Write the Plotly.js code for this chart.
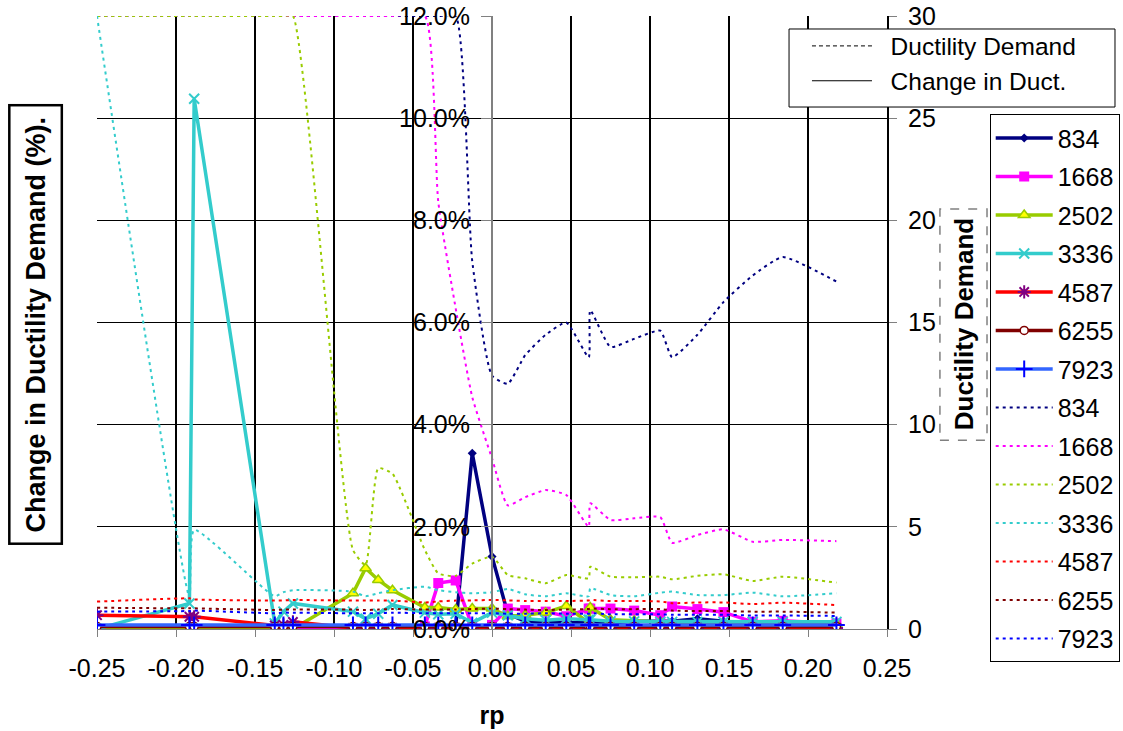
<!DOCTYPE html>
<html>
<head>
<meta charset="utf-8">
<script src="https://cdn.plot.ly/plotly-3.0.1.min.js"></script>
<style>html,body{margin:0;padding:0;background:#fff;}#chart{width:1123px;height:731px;}</style>
</head>
<body>
<div id="chart"></div>
<script>
// ---- data ----
const rp = [-0.25, -0.1915, -0.1885, -0.1375, -0.132, -0.126, -0.088, -0.080, -0.072, -0.063,
            -0.0425, -0.034, -0.023, -0.0125, 0.0, 0.010, 0.021, 0.034, 0.047, 0.0612,
            0.0622, 0.075, 0.090, 0.1065, 0.114, 0.130, 0.1465, 0.165, 0.184, 0.218];

const seriesNames = ['834', '1668', '2502', '3336', '4587', '6255', '7923'];

// Change in ductility demand (%)
const chg834  = [0.05,0.05,0.05,0.05,0.05,0.05,0.05,0.05,0.05,0.05,0.05,0.05,0.05,3.44,1.42,0.30,0.15,0.12,0.12,0.12,0.12,0.12,0.15,0.15,0.15,0.20,0.15,0.10,0.10,0.10];
const chg1668 = [0,0,0,0,0,0,0,0,0,0,0.05,0.90,0.95,0.05,0.08,0.40,0.37,0.34,0.25,0.40,0.40,0.40,0.36,0.27,0.44,0.39,0.33,0.14,0.16,0.11];
const chg2502 = [0,0,0,0,0,0,0.70,1.19,0.96,0.76,0.42,0.42,0.38,0.40,0.40,0.25,0.27,0.32,0.45,0.12,0.42,0.18,0.16,0.14,0.12,0.12,0.12,0.10,0.10,0.10];
const chg3336 = [0,0.50,10.38,0.11,0.34,0.50,0.34,0.20,0.30,0.47,0.32,0.29,0.30,0.12,0.32,0.27,0.20,0.17,0.20,0.18,0.18,0.15,0.15,0.14,0.14,0.14,0.14,0.14,0.14,0.14];
const chg4587 = [0.27,0.24,0.24,0.07,0.08,0.14,0.02,0.02,0.02,0.02,0.02,0.02,0.02,0.02,0.03,0.02,0.02,0.02,0.02,0.02,0.02,0.02,0.02,0.02,0.02,0.02,0.02,0.02,0.02,0.02];
const chg6255 = [0.05,0.05,0.05,0.05,0.05,0.05,0.05,0.05,0.05,0.05,0.05,0.05,0.05,0.05,0.05,0.05,0.05,0.05,0.05,0.05,0.05,0.05,0.05,0.05,0.05,0.05,0.05,0.05,0.05,0.05];
const chg7923 = [0.08,0.08,0.08,0.08,0.08,0.08,0.08,0.08,0.08,0.08,0.08,0.08,0.08,0.08,0.08,0.08,0.08,0.08,0.08,0.08,0.08,0.08,0.08,0.08,0.08,0.08,0.08,0.08,0.08,0.08];

// Ductility demand
const dd834  = [30,30,30,30,30,30,30,30,30,30,30,30,30,18.0,12.4,12.0,13.4,14.4,15.0,13.3,15.6,13.8,14.2,14.6,13.3,14.4,16.0,17.3,18.2,17.0];
const dd1668 = [30,30,30,30,30,30,30,30,30,30,30,20.9,15.7,11.35,8.35,6.05,6.45,6.8,6.56,5.0,6.15,5.33,5.42,5.47,4.22,4.6,4.88,4.27,4.36,4.3];
const dd2502 = [30,30,30,30,30,30,3.87,3.13,7.87,7.6,3.87,2.72,2.6,3.2,3.54,2.64,2.48,2.24,2.64,2.48,3.05,2.56,2.53,2.56,2.43,2.6,2.68,2.35,2.56,2.27];
const dd3336 = [30,1.57,4.85,1.6,1.8,1.9,1.83,1.6,1.75,1.9,2.07,1.9,1.8,1.75,1.8,1.96,1.7,1.6,1.75,1.6,2.0,1.66,1.6,1.78,1.83,1.66,1.66,1.78,1.6,1.75];
const dd4587 = [1.34,1.5,1.45,1.39,1.4,1.42,1.39,1.39,1.39,1.39,1.3,1.35,1.39,1.4,1.42,1.4,1.37,1.37,1.37,1.4,1.42,1.37,1.37,1.35,1.26,1.3,1.3,1.22,1.29,1.17];
const dd6255 = [1.04,1.01,1.01,0.93,0.95,0.95,0.95,0.93,0.95,0.98,0.95,0.95,0.95,0.98,1.0,0.97,0.95,0.93,0.95,0.98,1.0,0.97,0.97,0.98,0.9,0.88,0.88,0.85,0.85,0.8];
const dd7923 = [0.85,0.88,0.9,0.77,0.8,0.8,0.77,0.77,0.77,0.8,0.77,0.77,0.77,0.77,0.77,0.75,0.75,0.77,0.75,0.75,0.77,0.72,0.72,0.72,0.7,0.7,0.7,0.66,0.66,0.64];

const xTickLabels = ['-0.25','-0.20','-0.15','-0.10','-0.05','0.00','0.05','0.10','0.15','0.20','0.25'];
const xTickVals = [-0.25,-0.20,-0.15,-0.10,-0.05,0.0,0.05,0.10,0.15,0.20,0.25];

// ---- styles ----
const FONT = 'Liberation Sans, Arial, sans-serif';
const chgData = [chg834, chg1668, chg2502, chg3336, chg4587, chg6255, chg7923];
const ddData = [dd834, dd1668, dd2502, dd3336, dd4587, dd6255, dd7923];
const solidColors = ['#000080', '#FF00FF', '#99CC00', '#33CCCC', '#FF0000', '#800000', '#3366FF'];
const dashColors  = ['#000080', '#FF00FF', '#99CC00', '#33CCCC', '#FF0000', '#800000', '#0000FF'];
const markers = [
  {symbol: 'diamond', size: 7, color: '#000080'},
  {symbol: 'square', size: 10, color: '#FF00FF'},
  {symbol: 'triangle-up', size: 10, color: '#FFFF00', line: {color: '#99CC00', width: 1.5}},
  {symbol: 'x-thin-open', size: 10, color: '#33CCCC', line: {color: '#33CCCC', width: 2}},
  {symbol: 'asterisk-open', size: 11, color: '#800080', line: {color: '#800080', width: 2}},
  {symbol: 'circle', size: 8, color: '#FFFFFF', line: {color: '#800000', width: 1.5}},
  {symbol: 'cross-thin-open', size: 12, color: '#0000FF', line: {color: '#0000FF', width: 2}}
];

const traces = [];
seriesNames.forEach((n, i) => {
  traces.push({
    type: 'scatter', mode: 'lines+markers', x: rp, y: chgData[i], name: n,
    xaxis: 'x', yaxis: 'y', cliponaxis: true,
    line: {color: solidColors[i], width: 3.5},
    marker: markers[i], legend: 'legend', legendgroup: 's' + i
  });
});
seriesNames.forEach((n, i) => {
  traces.push({
    type: 'scatter', mode: 'lines', x: rp, y: ddData[i], name: n,
    xaxis: 'x', yaxis: 'y2',
    line: {color: dashColors[i], width: 2, dash: '3px,4px', shape: 'spline', smoothing: 0.5},
    legend: 'legend', legendgroup: 'd' + i
  });
});
// key legend
traces.push({type: 'scatter', mode: 'lines', x: [null], y: [null], name: '\u00a0\u00a0Ductility Demand',
  yaxis: 'y', line: {color: '#000', width: 1, dash: '4px,3px'}, legend: 'legend2'});
traces.push({type: 'scatter', mode: 'lines', x: [null], y: [null], name: '\u00a0\u00a0Change in Duct.',
  yaxis: 'y', line: {color: '#000', width: 1}, legend: 'legend2'});

const layout = {
  width: 1123, height: 731,
  margin: {l: 97, r: 236, t: 16, b: 102, autoexpand: false},
  paper_bgcolor: '#fff', plot_bgcolor: '#fff',
  font: {family: FONT, size: 25, color: '#000'},
  showlegend: true,
  xaxis: {
    range: [-0.25, 0.25], tickvals: xTickVals, ticktext: xTickLabels,
    showgrid: true, gridcolor: '#000', gridwidth: 1.2, zeroline: false,
    showline: true, linecolor: '#808080', linewidth: 1,
    ticks: 'outside', ticklen: 7, tickcolor: '#808080', ticklabelstandoff: 10,
    tickfont: {size: 25}, automargin: false,
    title: {text: '<b>rp</b>', font: {size: 25}, standoff: 25}
  },
  yaxis: {
    range: [0, 12], dtick: 2, tick0: 0, tickformat: '.1f', ticksuffix: '%',
    anchor: 'free', position: 0.5,
    showgrid: true, gridcolor: '#000', gridwidth: 1.2, zeroline: false,
    showline: true, linecolor: '#808080', linewidth: 2,
    ticks: 'outside', ticklen: 10, tickcolor: '#808080', ticklabelstandoff: 6,
    tickfont: {size: 25}, automargin: false
  },
  yaxis2: {
    range: [0, 30], dtick: 5, tick0: 0, overlaying: 'y', side: 'right', anchor: 'x',
    showgrid: false, zeroline: false,
    showline: true, linecolor: '#000', linewidth: 2,
    ticks: 'outside', ticklen: 8, tickcolor: '#808080', ticklabelstandoff: 6,
    tickfont: {size: 25}, automargin: false
  },
  legend: {
    x: 1.13, xanchor: 'left', y: 0.8398, yanchor: 'top',
    bordercolor: '#000', borderwidth: 1, bgcolor: '#fff',
    font: {size: 25}, itemwidth: 57, tracegroupgap: 3, traceorder: 'grouped'
  },
  legend2: {
    x: 0.8987, xanchor: 'left', y: 0.9878, yanchor: 'top',
    borderwidth: 0, bgcolor: 'rgba(0,0,0,0)',
    font: {size: 24.5}, itemwidth: 60
  },
  annotations: [
    {text: '<b>Change in Ductility Demand (%).</b>', xref: 'paper', yref: 'paper',
     x: -0.0772, y: 0.496, xanchor: 'center', yanchor: 'middle', textangle: -90,
     showarrow: false, font: {size: 27},
     bordercolor: '#000', borderwidth: 2.5, borderpad: 10, bgcolor: '#fff'},
    {text: '<b>Ductility Demand</b>', xref: 'paper', yref: 'paper',
     x: 1.097, y: 0.4967, xanchor: 'center', yanchor: 'middle', textangle: -90,
     showarrow: false, font: {size: 26}}
  ],
  shapes: [
    {type: 'rect', xref: 'paper', yref: 'paper', x0: 1.067, x1: 1.1266, y0: 0.308, y1: 0.685,
     line: {color: '#808080', width: 1.5, dash: 'dash'}},
    {type: 'rect', xref: 'paper', yref: 'paper', x0: 0.876, x1: 1.2886, y0: 0.8515, y1: 0.9788,
     line: {color: '#000', width: 1}, fillcolor: '#fff', layer: 'above'}
  ]
};

Plotly.newPlot('chart', traces, layout, {staticPlot: true, displayModeBar: false});
</script>
</body>
</html>
